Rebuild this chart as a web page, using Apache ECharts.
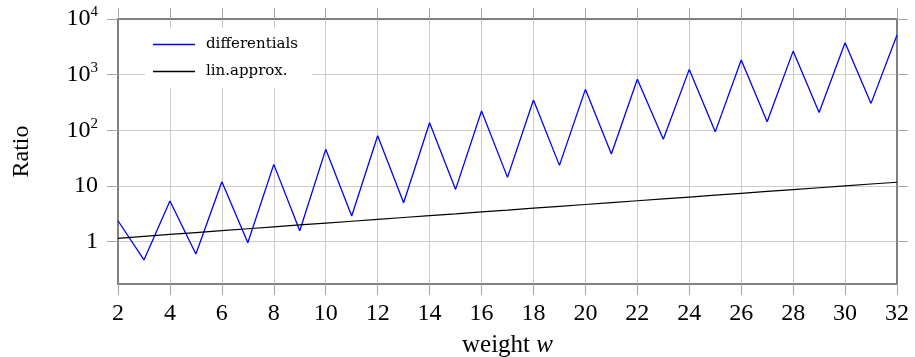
<!DOCTYPE html>
<html>
<head>
<meta charset="utf-8">
<script src="https://cdn.jsdelivr.net/npm/echarts@6/dist/echarts.min.js"></script>
<style>html,body{margin:0;padding:0;background:#fff}#c{width:915px;height:357px}</style>
</head>
<body>
<div id="c"></div>
<script>
const weights = [2,3,4,5,6,7,8,9,10,11,12,13,14,15,16,17,18,19,20,21,22,23,24,25,26,27,28,29,30,31,32];
const differentials = [2.38,0.47,5.38,0.60,11.9,0.96,24.5,1.57,45.6,2.89,80,5.0,137,8.7,222,14.3,350,23.5,545,37.5,830,69,1245,94,1830,143,2650,210,3740,305,5140];
const linApprox = [1.15,1.25,1.35,1.46,1.58,1.71,1.85,2.0,2.16,2.33,2.52,2.72,2.94,3.17,3.43,3.70,4.0,4.32,4.66,5.03,5.44,5.87,6.34,6.85,7.4,7.99,8.63,9.32,10.06,10.87,11.7];
const yTicks = [1,10,100,1000,10000];
const yMin = 0.174, yMax = 10000;

const FONT = 'Liberation Serif';
const axisGray = '#808080';
const gridGray = '#cccccc';
const tickGray = '#a8a8a8';

function yFmt(v){
  const e = Math.round(Math.log10(v));
  if (e === 0) return '1';
  if (e === 1) return '10';
  return '10{sup|' + e + '}';
}

const chart = echarts.init(document.getElementById('c'), null, {renderer:'canvas'});
const xCommon = {
  type:'value', min:2, max:32, interval:2,
  axisLine:{show:true, onZero:false, lineStyle:{color:axisGray, width:2}},
  axisTick:{show:true, inside:false, length:11, lineStyle:{color:tickGray, width:1}},
};
const yCommon = {
  type:'log', min:yMin, max:yMax, logBase:10,
  axisLine:{show:true, onZero:false, lineStyle:{color:axisGray, width:2}},
  axisTick:{show:true, inside:false, length:11, customValues:yTicks, lineStyle:{color:tickGray, width:1}},
};
chart.setOption({
  animation:false,
  backgroundColor:'#fff',
  textStyle:{fontFamily:FONT},
  grid:{left:118, right:18, top:19, bottom:73, containLabel:false, outerBoundsMode:'none'},
  legend:{
    left:145, top:28, orient:'vertical',
    backgroundColor:'#fff', borderWidth:0,
    padding:[9,14,9,8], itemGap:12, itemWidth:42, itemHeight:1.4,
    icon:'rect',
    textStyle:{fontFamily:'DejaVu Serif', fontSize:15, color:'#000', padding:[0,0,0,6], lineHeight:15},
    data:[{name:'differentials', itemStyle:{color:'#0000ff'}},{name:'lin.approx.', itemStyle:{color:'#000000'}}]
  },
  xAxis:[
    Object.assign({}, xCommon, {
      position:'bottom',
      name:'weight {it|w}', nameLocation:'middle', nameGap:49,
      nameTextStyle:{fontFamily:FONT, fontSize:25, color:'#000',
        rich:{it:{fontFamily:FONT, fontStyle:'italic', fontSize:25, color:'#000'}}},
      axisLabel:{show:true, margin:18, fontFamily:FONT, fontSize:24, color:'#000'},
      splitLine:{show:true, lineStyle:{color:gridGray, width:1}}
    }),
    Object.assign({}, xCommon, {
      position:'top',
      axisLabel:{show:false},
      splitLine:{show:false}
    })
  ],
  yAxis:[
    Object.assign({}, yCommon, {
      position:'left',
      name:'Ratio', nameLocation:'middle', nameGap:84, nameRotate:90,
      nameTextStyle:{fontFamily:FONT, fontSize:24, color:'#000'},
      axisLabel:{show:true, customValues:yTicks, margin:20, fontFamily:FONT, fontSize:24, color:'#000',
        formatter:yFmt,
        rich:{sup:{fontFamily:FONT, fontSize:15, color:'#000', padding:[0,0,13,0]}}},
      splitLine:{show:true, lineStyle:{color:gridGray, width:1}}
    }),
    Object.assign({}, yCommon, {
      position:'right',
      axisLabel:{show:false},
      splitLine:{show:false}
    })
  ],
  series:[
    {
      name:'differentials', type:'line', xAxisIndex:0, yAxisIndex:0,
      data: weights.map((w,i)=>[w, differentials[i]]),
      symbol:'none', lineStyle:{color:'#0000ff', width:1.3}, itemStyle:{color:'#0000ff'}, z:3
    },
    {
      name:'lin.approx.', type:'line', xAxisIndex:0, yAxisIndex:0,
      data: weights.map((w,i)=>[w, linApprox[i]]),
      symbol:'none', lineStyle:{color:'#000000', width:1.2}, itemStyle:{color:'#000000'}, z:3
    }
  ]
});
</script>
</body>
</html>
